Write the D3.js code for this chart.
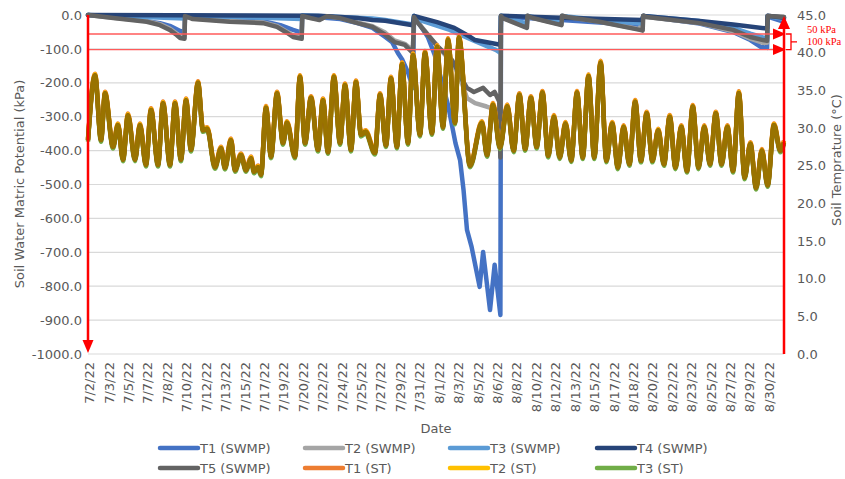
<!DOCTYPE html>
<html>
<head>
<meta charset="utf-8">
<script src="https://cdn.jsdelivr.net/npm/d3@7"></script>
<style>
  body { margin: 0; background: #fff; }
  text { font-family: "DejaVu Sans", sans-serif; }
</style>
</head>
<body>
<svg id="chart" width="845" height="479"></svg>
<script>
// x values are days since 7/2/22 00:00, y values are kPa (SWMP) or degrees C (ST)
const dateLabels = ["7/2/22","7/3/22","7/5/22","7/7/22","7/8/22","7/10/22","7/12/22","7/13/22","7/15/22",
  "7/17/22","7/19/22","7/20/22","7/22/22","7/24/22","7/25/22","7/27/22","7/29/22","7/31/22","8/1/22",
  "8/3/22","8/5/22","8/6/22","8/8/22","8/10/22","8/12/22","8/13/22","8/15/22","8/17/22","8/18/22",
  "8/20/22","8/22/22","8/23/22","8/25/22","8/27/22","8/29/22","8/30/22"];

const t1Swmp = [[0,0],[2.2,-6],[5.1,-18],[6.25,-24],[7.1,-32],[8.0,-47],[8.38,-52],[8.42,-3],[12.3,-12],
  [15.2,-18],[16.7,-30],[17.8,-44],[18.55,-52],[18.6,-3],[21.9,-12],[23.4,-24],[24.7,-38],[25.8,-65],
  [26.4,-80],[26.9,-112],[27.3,-133],[27.8,-171],[28.2,-215],[28.3,-15],[28.65,-21],[29.5,-65],
  [30.1,-118],[31.25,-265],[31.9,-378],[32.3,-428],[32.6,-516],[32.9,-634],[33.3,-684],[34.0,-802],
  [34.3,-699],[34.9,-870],[35.3,-737],[35.8,-885],[35.85,-5],[41.1,-15],[44.4,-22],[48.1,-30],
  [48.2,-3],[53.1,-25],[56.0,-50],[57.5,-74],[58.4,-94],[58.95,-97],[59.0,-5],[60.42,-20]];

const t2Swmp = [[0,0],[2.2,-8],[5.1,-18],[6.25,-27],[7.1,-40],[7.7,-55],[8.0,-62],[8.38,-64],[8.42,-3],
  [9.1,-10],[12.3,-18],[15.2,-22],[16.4,-32],[17.3,-50],[17.8,-60],[18.55,-64],[18.6,-3],[19.3,-8],
  [20.1,-13],[20.7,-4],[21.9,-8],[23.4,-22],[24.7,-33],[25.8,-52],[26.6,-75],[27.5,-85],[28.2,-105],
  [28.3,-5],[28.65,-22],[29.5,-57],[30.4,-95],[31.6,-140],[32.3,-185],[32.9,-245],[33.6,-260],
  [34.6,-270],[35.5,-280],[35.8,-288],[35.85,-3],[36.0,-8],[38.1,-35],[38.15,-2],[38.6,-8],
  [41.1,-28],[41.15,-2],[41.6,-6],[44.4,-19],[47.9,-42],[48.2,-2],[48.5,-6],[53.1,-24],[56.0,-48],
  [57.5,-70],[58.6,-82],[58.95,-82],[59.0,-3],[60.42,-6]];

const t3Swmp = [[0,0],[8.38,-10],[8.42,-1],[18.55,-12],[18.6,-1],[24.7,-10],[25.8,-15],[28.2,-28],
  [28.3,-2],[28.8,-15],[31.4,-44],[33.4,-74],[35.4,-103],[35.8,-112],[35.85,-2],[37.0,-15],[38.1,-25],
  [38.15,-3],[41.1,-22],[41.15,-3],[44.4,-15],[48.1,-25],[48.2,-3],[53.1,-18],[56.0,-38],[57.5,-55],
  [58.6,-66],[58.95,-68],[59.0,-3],[60.42,-12]];

const t4Swmp = [[0,0],[20,-2],[23.4,-9],[24.7,-15],[25.8,-17],[28.2,-30],[28.3,-3],[30.3,-21],
  [31.8,-38],[33.2,-65],[33.6,-74],[35.8,-88],[35.85,-2],[41,-8],[48.1,-15],[48.2,-3],[53.1,-18],
  [56.0,-28],[58.95,-40],[59.0,-2],[60.42,-8]];

const t5Swmp = [[0,0],[2.2,-9],[5.1,-20],[6.25,-30],[7.1,-44],[7.7,-59],[8.0,-68],[8.38,-70],[8.42,-3],
  [9.1,-12],[12.3,-20],[15.2,-24],[16.4,-35],[17.3,-53],[17.8,-65],[18.55,-70],[18.6,-3],[19.3,-9],
  [20.1,-15],[20.7,-4],[21.9,-9],[23.4,-24],[24.7,-35],[25.8,-58],[26.6,-80],[27.5,-88],[28.2,-112],
  [28.3,-6],[28.65,-24],[29.5,-59],[30.4,-94],[31.6,-133],[32.5,-192],[32.9,-215],[33.5,-227],
  [34.3,-215],[34.9,-236],[35.3,-227],[35.7,-255],[35.8,-420],[35.85,-3],[36.0,-9],[38.1,-38],
  [38.15,-2],[38.6,-9],[41.1,-30],[41.15,-2],[41.6,-6],[44.4,-20],[47.9,-44],[48.15,-46],[48.2,-2],
  [48.5,-6],[53.1,-24],[56.0,-44],[57.5,-65],[58.6,-74],[58.95,-76],[59.0,-3],[60.42,-6]];

// soil temperature: the five probes overlap almost exactly, daily highs and lows
const stDay = [0,0.61,1.13,1.48,2.17,2.6,3.04,3.47,4.08,4.51,5.03,5.47,6.08,6.51,7.12,7.55,8.07,8.51,
  8.94,9.55,9.98,10.35,11.02,11.55,11.89,12.41,12.76,13.28,13.72,14.15,14.41,14.76,15.02,15.45,15.89,
  16.41,16.93,17.27,17.97,18.4,18.84,19.36,19.97,20.4,20.83,21.35,21.88,22.31,22.83,23.26,23.7,24.1,
  24.91,25.35,25.87,26.3,26.82,27.26,27.78,28.21,28.82,29.25,29.86,30.3,30.82,31.25,31.86,32.2,33.16,
  34.2,34.64,35.16,35.76,36.4,36.95,37.45,37.95,38.45,38.95,39.45,39.95,40.45,40.95,41.45,41.95,42.45,
  42.95,43.45,43.95,44.5,45.0,45.5,46.0,46.5,47.0,47.5,48.0,48.5,49.0,49.5,50.0,50.5,51.0,51.5,52.0,
  52.5,53.0,53.5,54.0,54.5,55.0,55.5,56.0,56.5,57.0,57.5,58.0,58.5,59.0,59.55,60.1,60.42];
const stTemp = [28.4,37.0,28.4,34.6,27.5,30.4,25.8,31.7,25.8,30.4,25.1,32.4,25.1,33.3,25.1,33.3,25.8,33.7,
  27.1,36.0,29.7,29.9,24.8,27.3,24.7,28.4,24.4,26.4,24.4,26.0,24.2,24.8,23.8,32.7,26.2,
  34.6,28.0,30.7,26.2,36.8,28.0,34.0,27.1,33.7,26.8,36.8,28.0,35.7,27.1,36.1,29.1,29.5,
  26.7,34.4,27.7,36.6,27.5,38.5,28.0,39.7,29.1,40.0,29.3,40.8,30.1,41.7,30.7,42.0,25.0,
  30.7,26.4,33.1,27.4,32.9,27.0,34.4,27.2,34.0,27.5,34.7,26.3,31.5,26.1,30.6,25.7,34.7,
  26.1,36.9,26.1,38.7,25.65,30.6,24.75,30.15,25.2,33.5,25.65,31.95,25.65,29.7,25.2,31.5,24.75,30.15,24.3,
  32.85,24.75,30.15,25.2,31.95,25.2,30.15,24.3,34.65,23.4,27.9,22.05,27.0,22.4,30.4,27.0,28.1];

const thresholdKpa = [-56, -102];
const thresholdLabels = ["50 kPa", "100 kPa"];

const swmpSeries = [
  { name: "T1 (SWMP)", color: "#4472C4", data: t1Swmp },
  { name: "T2 (SWMP)", color: "#A5A5A5", data: t2Swmp },
  { name: "T3 (SWMP)", color: "#5B9BD5", data: t3Swmp },
  { name: "T4 (SWMP)", color: "#264478", data: t4Swmp },
  { name: "T5 (SWMP)", color: "#636363", data: t5Swmp }
];
const stPoints = stDay.map((d, i) => [d, stTemp[i]]);
const stSeries = [
  { name: "T1 (ST)", color: "#ED7D31", shift: -1.6, legend: true },
  { name: "T2 (ST)", color: "#FFC000", shift: -0.9, legend: true },
  { name: "T3 (ST)", color: "#70AD47", shift: 1.6, legend: true },
  { name: "T4 (ST)", color: "#9E480E", shift: 0, legend: false },
  { name: "T5 (ST)", color: "#997300", shift: 0, legend: false }
];

const plot = { left: 88, right: 784, top: 15, bottom: 354 };
const labelColor = "#595959";

const svg = d3.select("#chart");
const x = d3.scaleLinear().domain([0, 60.42]).range([plot.left, plot.right]);
const yL = d3.scaleLinear().domain([-1000, 0]).range([plot.bottom, plot.top]);
const yR = d3.scaleLinear().domain([0, 45]).range([plot.bottom, plot.top]);

//Horizontal gridlines
svg.append("g").selectAll("line")
  .data(d3.range(-1000, 1, 100))
  .enter().append("line")
  .attr("x1", plot.left).attr("x2", plot.right)
  .attr("y1", d => yL(d)).attr("y2", d => yL(d))
  .attr("stroke", "#D9D9D9").attr("stroke-width", 1.2);

//Axes
const leftAxis = svg.append("g")
  .attr("transform", "translate(" + plot.left + ",0)")
  .call(d3.axisLeft(yL).tickValues(d3.range(-1000, 1, 100)).tickFormat(d => d.toFixed(1)).tickSize(0).tickPadding(6));
const rightAxis = svg.append("g")
  .attr("transform", "translate(" + plot.right + ",0)")
  .call(d3.axisRight(yR).tickValues(d3.range(0, 46, 5)).tickFormat(d => d.toFixed(1)).tickSize(0).tickPadding(13));
const tickDays = dateLabels.map((_, i) => 0.1 + i * 59 / 35);
const bottomAxis = svg.append("g")
  .attr("transform", "translate(0," + plot.bottom + ")")
  .call(d3.axisBottom(x).tickValues(tickDays).tickFormat((d, i) => dateLabels[i]).tickSize(0));
bottomAxis.selectAll("text")
  .attr("transform", "rotate(-90)")
  .attr("x", -8).attr("y", 0).attr("dy", "0.35em")
  .attr("text-anchor", "end");

[leftAxis, rightAxis, bottomAxis].forEach(a => {
  a.select(".domain").remove();
  a.attr("font-family", null).attr("font-size", null);
  a.selectAll("text").attr("font-size", 13).attr("fill", labelColor);
});

//Axis titles
svg.append("text")
  .attr("transform", "translate(24,184) rotate(-90)")
  .attr("text-anchor", "middle").attr("font-size", 13).attr("fill", labelColor)
  .text("Soil Water Matric Potential (kPa)");
svg.append("text")
  .attr("transform", "translate(841,160) rotate(-90)")
  .attr("text-anchor", "middle").attr("font-size", 13).attr("fill", labelColor)
  .text("Soil Temprature (°C)");
svg.append("text")
  .attr("x", (plot.left + plot.right) / 2).attr("y", 433)
  .attr("text-anchor", "middle").attr("font-size", 13).attr("fill", labelColor)
  .text("Date");

//Data lines
const swmpLine = d3.line().x(d => x(d[0])).y(d => yL(d[1]));
const stLine = d3.line().x(d => x(d[0])).y(d => yR(d[1])).curve(d3.curveMonotoneX);

svg.append("g").selectAll("path")
  .data(swmpSeries)
  .enter().append("path")
  .attr("d", d => swmpLine(d.data))
  .attr("fill", "none")
  .attr("stroke", d => d.color)
  .attr("stroke-width", 4.5)
  .attr("stroke-linejoin", "round")
  .attr("stroke-linecap", "round");

svg.append("g").selectAll("path")
  .data(stSeries)
  .enter().append("path")
  .attr("d", stLine(stPoints))
  .attr("transform", d => "translate(0," + d.shift + ")")
  .attr("fill", "none")
  .attr("stroke", d => d.color)
  .attr("stroke-width", 4.5)
  .attr("stroke-linejoin", "round");

//Red threshold lines and markers
const red = "#FF0000";
svg.append("g").selectAll("line")
  .data(thresholdKpa)
  .enter().append("line")
  .attr("x1", plot.left).attr("x2", plot.right - 8)
  .attr("y1", d => yL(d)).attr("y2", d => yL(d))
  .attr("stroke", "#FF5A5A").attr("stroke-width", 1.3);
svg.append("g").selectAll("path")
  .data(thresholdKpa)
  .enter().append("path")
  .attr("d", d => "M" + (plot.right - 11) + "," + (yL(d) - 5.5) + "L" + (plot.right + 2) + "," + yL(d) +
    "L" + (plot.right - 11) + "," + (yL(d) + 5.5) + "Z")
  .attr("fill", red);
const bTop = yL(thresholdKpa[0]), bBot = yL(thresholdKpa[1]);
svg.append("path")
  .attr("d", "M" + (plot.right + 2) + "," + bTop + "H" + (plot.right + 7) + "V" + bBot + "H" + (plot.right + 2) +
    "M" + (plot.right + 7) + "," + (bTop + bBot) / 2 + "H" + (plot.right + 13))
  .attr("fill", "none").attr("stroke", red).attr("stroke-width", 1.3);
svg.append("g").selectAll("text")
  .data(thresholdLabels)
  .enter().append("text")
  .attr("x", 807)
  .attr("y", (d, i) => i === 0 ? 32.5 : 44.5)
  .style("font-family", "'Liberation Serif', serif")
  .attr("font-size", 10.5)
  .attr("fill", red)
  .text(d => d);

//Axis arrows
svg.append("line")
  .attr("x1", plot.left).attr("x2", plot.left)
  .attr("y1", plot.top).attr("y2", plot.bottom - 12)
  .attr("stroke", red).attr("stroke-width", 2.5);
svg.append("path")
  .attr("d", "M" + (plot.left - 5.5) + "," + (plot.bottom - 14) + "L" + plot.left + "," + (plot.bottom - 1) +
    "L" + (plot.left + 5.5) + "," + (plot.bottom - 14) + "Z")
  .attr("fill", red);
svg.append("line")
  .attr("x1", plot.right).attr("x2", plot.right)
  .attr("y1", plot.bottom).attr("y2", plot.top + 12)
  .attr("stroke", red).attr("stroke-width", 2.5);
svg.append("path")
  .attr("d", "M" + (plot.right - 6) + "," + (plot.top + 14) + "L" + plot.right + "," + (plot.top + 1) +
    "L" + (plot.right + 6) + "," + (plot.top + 14) + "Z")
  .attr("fill", red);

//Legend (two rows of four)
const legendItems = swmpSeries.map(s => ({ name: s.name, color: s.color }))
  .concat(stSeries.filter(s => s.legend).map(s => ({ name: s.name, color: s.color })));
const legendCols = [160, 305, 450, 597];
const legendRows = [448, 468];
const legend = svg.append("g").selectAll("g")
  .data(legendItems)
  .enter().append("g")
  .attr("transform", (d, i) => "translate(" + legendCols[i % 4] + "," + legendRows[Math.floor(i / 4)] + ")");
legend.append("line")
  .attr("x1", 0).attr("x2", 38).attr("y1", 0).attr("y2", 0)
  .attr("stroke", d => d.color).attr("stroke-width", 4.5).attr("stroke-linecap", "round");
legend.append("text")
  .attr("x", 40).attr("y", 0).attr("dy", "0.35em")
  .attr("font-size", 13).attr("fill", labelColor)
  .text(d => d.name);
</script>
</body>
</html>
